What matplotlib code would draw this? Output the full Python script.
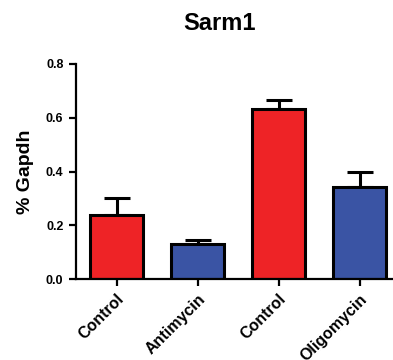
import matplotlib
matplotlib.use("Agg")
import matplotlib.pyplot as plt

categories = ["Control", "Antimycin", "Control", "Oligomycin"]
values = [0.240, 0.130, 0.631, 0.342]
errors = [0.063, 0.015, 0.036, 0.055]
colors = ["#EE2326", "#3A54A4", "#EE2326", "#3A54A4"]
yticks = [0.0, 0.2, 0.4, 0.6, 0.8]

plt.rcParams['font.family'] = ['Liberation Sans', 'DejaVu Sans']

fig = plt.figure(figsize=(3.93, 3.60), dpi=100)
ax = fig.add_axes([76/393, 1-279/360, 1-76/393, (279-64)/360])

x = list(range(len(categories)))
ax.bar(x, values, width=53/81, color=colors, edgecolor="black", linewidth=2.2, zorder=2)
ax.errorbar(x, values, yerr=[[0]*4, errors], fmt="none", ecolor="black",
            elinewidth=2.2, capsize=9.5, capthick=2.2, zorder=1)

ax.set_xlim(-0.5, 3.41)
ax.set_ylim(0, 0.8)
ax.set_yticks(yticks)
ax.set_yticklabels([f"{t:.1f}" for t in yticks], fontsize=9, fontweight="bold")
ax.set_xticks(x)
ax.set_xticklabels(categories, rotation=45, ha="right", rotation_mode="anchor",
                   fontsize=11.5, fontweight="bold")
for s in ["top", "right"]:
    ax.spines[s].set_visible(False)
for s in ["left", "bottom"]:
    ax.spines[s].set_linewidth(1.6)
ax.tick_params(axis="both", width=1.6, length=5, direction="out", pad=4)
ax.tick_params(axis="x", pad=4)
ax.set_ylabel("% Gapdh", fontsize=14, fontweight="bold", va="center")
ax.yaxis.set_label_coords(-(76-25)/317, 0.5)

fig.text(220/393, 1-24/360, "Sarm1", ha="center", va="center", fontsize=17, fontweight="bold")

fig.savefig("out.png", dpi=100)
